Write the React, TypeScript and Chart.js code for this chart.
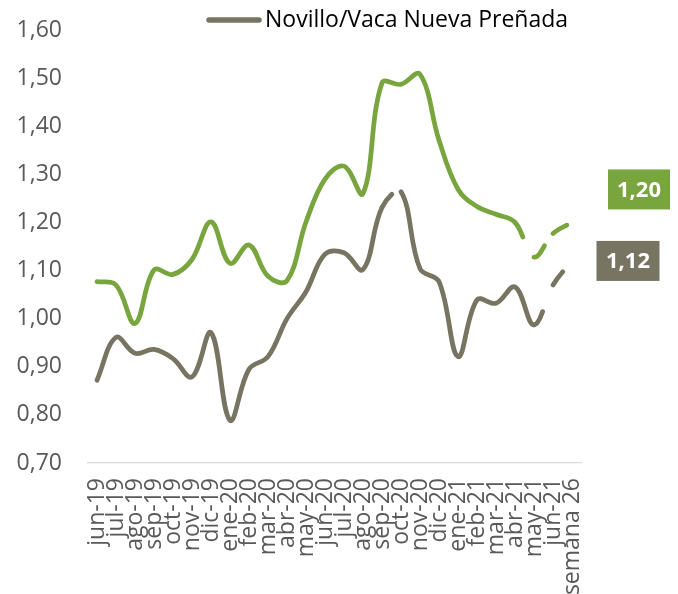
import React, { useEffect, useRef } from 'react';
import { Chart, registerables } from 'chart.js';

Chart.register(...registerables);

const categories = [
  'jun-19', 'jul-19', 'ago-19', 'sep-19', 'oct-19', 'nov-19', 'dic-19',
  'ene-20', 'feb-20', 'mar-20', 'abr-20', 'may-20', 'jun-20', 'jul-20',
  'ago-20', 'sep-20', 'oct-20', 'nov-20', 'dic-20', 'ene-21', 'feb-21',
  'mar-21', 'abr-21', 'may-21', 'jun-21', 'semana 26',
];

const greenValues = [
  1.077, 1.07, 0.99, 1.101, 1.092, 1.123, 1.201,
  1.115, 1.153, 1.088, 1.079, 1.201, 1.29, 1.317,
  1.26, 1.49, 1.487, 1.508, 1.371, 1.269, 1.233,
  1.217, 1.2, 1.128, 1.177, 1.2,
];

const greyValues = [
  0.872, 0.961, 0.928, 0.936, 0.917, 0.879, 0.971,
  0.789, 0.895, 0.921, 1.0, 1.056, 1.134, 1.137,
  1.102, 1.231, 1.264, 1.104, 1.077, 0.921, 1.039,
  1.032, 1.066, 0.987, 1.07, 1.12,
];

const legendLabel = 'Novillo/Vaca Nueva Preñada';

// segment start indices drawn dashed (each restarts its dash pattern)
const greenDashedSegments = [22, 23, 24];
const greyDashedSegments = [15, 23, 24];

const yMin = 0.7;
const yMax = 1.6;
const yStep = 0.1;

const GREEN = '#78A53E';
const GREY = '#777562';
const TICK_COLOR = '#595959';
const FONT = '"Open Sans", "DejaVu Sans", sans-serif';

const fmt = (v: number) => v.toFixed(2).replace('.', ',');

const dashFor = (list: number[]) => (ctx: any) => {
  const i = ctx.p0DataIndex;
  if (list.indexOf(i) >= 0) {
    return [16.5, 1000 + (i % 2)];
  }
  return undefined;
};

const legendPlugin = {
  id: 'customLegend',
  afterDraw(chart: any) {
    const ctx = chart.ctx;
    ctx.save();
    ctx.strokeStyle = GREY;
    ctx.lineWidth = 5.5;
    ctx.lineCap = 'round';
    ctx.beginPath();
    ctx.moveTo(209, 20);
    ctx.lineTo(259, 20);
    ctx.stroke();
    ctx.fillStyle = '#000000';
    ctx.font = `23px ${FONT}`;
    ctx.textAlign = 'left';
    ctx.textBaseline = 'middle';
    ctx.fillText(legendLabel, 265, 20);
    ctx.restore();
  },
};

const endLabels = [
  { dataset: 0, color: GREEN, dx: 67, dy: -33, w: 62, h: 40 },
  { dataset: 1, color: GREY, dx: 56, dy: 0, w: 63, h: 40 },
];

const endLabelPlugin = {
  id: 'endLabels',
  afterDatasetsDraw(chart: any) {
    const ctx = chart.ctx;
    endLabels.forEach((cfg) => {
      const meta = chart.getDatasetMeta(cfg.dataset);
      const last = meta.data.length - 1;
      const pt = meta.data[last];
      const value = chart.data.datasets[cfg.dataset].data[last] as number;
      const cx = pt.x + cfg.dx;
      const cy = pt.y + cfg.dy;
      ctx.save();
      ctx.fillStyle = cfg.color;
      ctx.fillRect(cx - cfg.w / 2, cy - cfg.h / 2, cfg.w, cfg.h);
      ctx.fillStyle = '#FFFFFF';
      ctx.font = `bold 22px ${FONT}`;
      ctx.textAlign = 'center';
      ctx.textBaseline = 'middle';
      ctx.fillText(fmt(value), cx, cy + 1);
      ctx.restore();
    });
  },
};

export default function App() {
  const canvasRef = useRef<HTMLCanvasElement | null>(null);

  useEffect(() => {
    const canvas = canvasRef.current;
    if (!canvas) return;
    const chart = new Chart(canvas, {
      type: 'line',
      data: {
        labels: categories,
        datasets: [
          {
            label: '',
            data: greenValues,
            borderColor: GREEN,
            backgroundColor: GREEN,
            borderWidth: 4.75,
            borderCapStyle: 'round',
            borderJoinStyle: 'round',
            pointRadius: 0,
            tension: 0.38,
            fill: false,
            segment: { borderDash: dashFor(greenDashedSegments) },
          },
          {
            label: legendLabel,
            data: greyValues,
            borderColor: GREY,
            backgroundColor: GREY,
            borderWidth: 4.75,
            borderCapStyle: 'round',
            borderJoinStyle: 'round',
            pointRadius: 0,
            tension: 0.38,
            fill: false,
            segment: { borderDash: dashFor(greyDashedSegments) },
          },
        ],
      },
      options: {
        responsive: false,
        animation: false,
        devicePixelRatio: 1,
        layout: { padding: { top: 30, right: 96.5, bottom: 0, left: 0 } },
        plugins: {
          legend: { display: false },
          tooltip: { enabled: false },
        },
        scales: {
          x: {
            type: 'category',
            offset: true,
            grid: { display: false, drawTicks: false },
            border: { display: true, color: '#D9D9D9', width: 1.2 },
            ticks: {
              autoSkip: false,
              minRotation: 90,
              maxRotation: 90,
              padding: 15,
              color: TICK_COLOR,
              font: { family: FONT, size: 23 },
            },
            afterFit: (scale: any) => {
              scale.height = 131;
            },
          },
          y: {
            min: yMin,
            max: yMax,
            grid: { display: false, drawTicks: true, tickLength: 25 },
            border: { display: false },
            ticks: {
              stepSize: yStep,
              padding: 0.5,
              color: TICK_COLOR,
              font: { family: FONT, size: 23 },
              callback: (v: any) => fmt(Number(v)),
            },
            afterFit: (scale: any) => {
              scale.width = 87.5;
            },
          },
        },
      },
      plugins: [legendPlugin, endLabelPlugin],
    });
    return () => chart.destroy();
  }, []);

  return (
    <div style={{ position: 'fixed', left: 0, top: 0, width: 678, height: 594, background: '#FFFFFF' }}>
      <canvas ref={canvasRef} width={678} height={594} style={{ width: 678, height: 594, display: 'block' }} />
    </div>
  );
}
